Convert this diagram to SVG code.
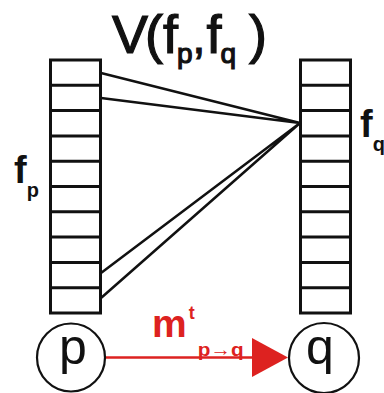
<svg xmlns="http://www.w3.org/2000/svg" width="384" height="393" viewBox="0 0 384 393">
<style>
.box{fill:#fff;stroke:#111;stroke-width:3}
.sep{stroke:#111;stroke-width:3}
.con{stroke:#111;stroke-width:2.5;fill:none}
.t{font-family:"Liberation Sans","DejaVu Sans",sans-serif;fill:#111}
.h{stroke:#111;stroke-width:1.2}
.r{font-family:"Liberation Sans","DejaVu Sans",sans-serif;fill:#dd2220;font-weight:bold}
.node{fill:#fff;stroke:#111;stroke-width:2.2}
</style>
<rect width="384" height="393" fill="#fff"/>
<g id="title">
<text class="t h" x="112" y="53" font-size="54">V<tspan dx="-3">(f</tspan><tspan font-size="28" dy="10" dx="-1">p</tspan><tspan dy="-10" font-size="46">,</tspan><tspan dx="1">f</tspan><tspan font-size="28" dy="10" dx="-1">q</tspan><tspan dy="-10" dx="13">)</tspan></text>
</g>
<g id="fp-column">
<rect class="box" x="50.5" y="60" width="50" height="253"/>
<path class="sep" d="M50 85.3H101M50 110.6H101M50 135.9H101M50 161.2H101M50 186.5H101M50 211.8H101M50 237.1H101M50 262.4H101M50 287.7H101"/>
<text class="t" x="14" y="183" font-size="38" font-weight="bold">f<tspan font-size="20" dy="14">p</tspan></text>
</g>
<g id="fq-column">
<rect class="box" x="300.5" y="60" width="50" height="253"/>
<path class="sep" d="M300 85.3H351M300 110.6H351M300 135.9H351M300 161.2H351M300 186.5H351M300 211.8H351M300 237.1H351M300 262.4H351M300 287.7H351"/>
<text class="t" x="360" y="137" font-size="38" font-weight="bold">f<tspan font-size="20" dy="14">q</tspan></text>
</g>
<g id="connectors">
<path class="con" d="M101 73L300 123M101 98L300 123M101 273L300 123M101 298L300 123"/>
<line x1="105" y1="357.5" x2="256" y2="357.5" stroke="#dd2220" stroke-width="2.5"/>
<polygon points="252,338 288,357.5 252,377" fill="#dd2220"/>
</g>
<g id="message-label">
<text class="r" x="152" y="337" font-size="39">m<tspan font-size="18" dy="-18" dx="2">t</tspan><tspan font-size="19" dy="37" dx="3" textLength="46" lengthAdjust="spacingAndGlyphs">p→q</tspan></text>
</g>
<g id="node-p">
<circle class="node" cx="71" cy="357.5" r="34"/>
<text class="t" x="73" y="364" font-size="50" text-anchor="middle">p</text>
</g>
<g id="node-q">
<circle class="node" cx="324" cy="358" r="35"/>
<text class="t" x="320" y="364" font-size="50" text-anchor="middle">q</text>
</g>
</svg>
